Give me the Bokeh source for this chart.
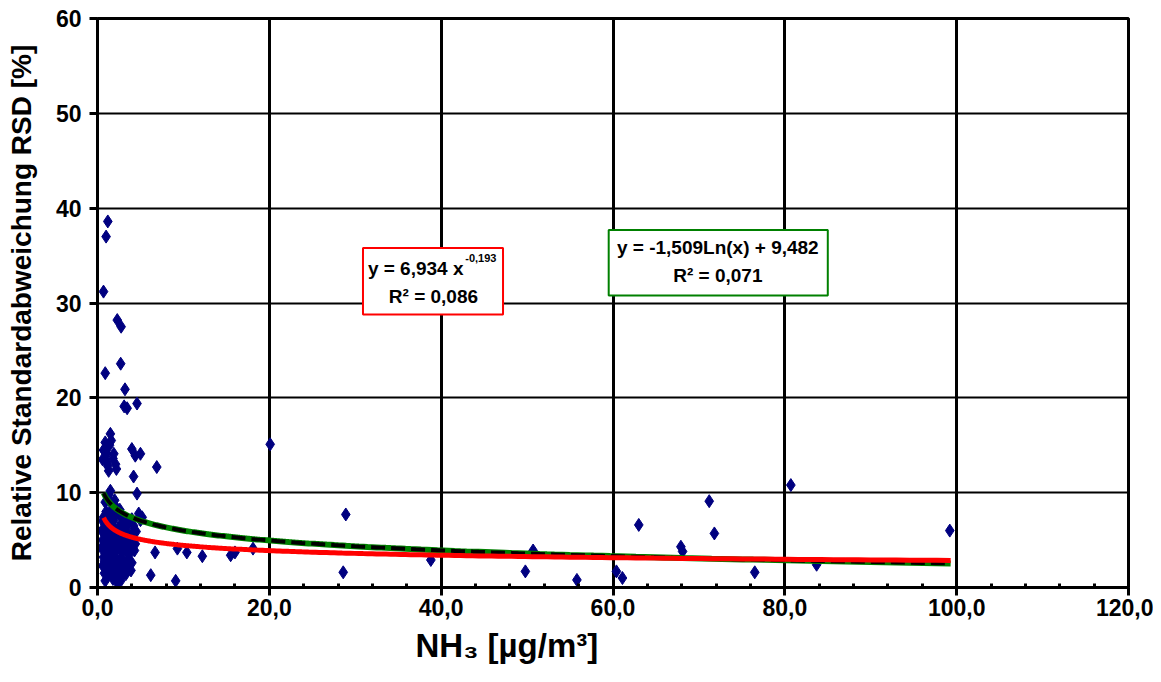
import numpy as np
from bokeh.plotting import figure
from bokeh.models import Range1d, FixedTicker, Label, Title, BoxAnnotation, CustomJSTickFormatter
from bokeh.embed import file_html
from bokeh.resources import INLINE

# ---- data ----
nh3 = [
    1.2, 1.0, 0.7, 2.3, 2.75, 2.7, 0.9, 3.2, 4.6, 3.1, 3.45,
    1.5, 0.9, 1.1, 1.9, 1.1, 2.1, 1.3, 4.0, 5.0, 4.4, 6.9, 4.2, 1.5, 4.6,
    1.4, 1.8, 0.8, 0.7, 1.6, 2.2, 0.6, 1.2,
    0.6, 1.0, 1.4, 1.8, 2.2, 2.6, 3.0, 3.6, 4.2,
    0.5, 0.9, 1.3, 1.7, 2.1, 2.5, 2.9, 3.3, 3.9, 4.5,
    0.6, 1.0, 1.4, 1.8, 2.2, 2.6, 3.0, 3.4, 3.8, 4.4,
    0.5, 0.9, 1.3, 1.7, 2.1, 2.5, 2.9, 3.3, 3.7, 4.3,
    0.7, 1.1, 1.5, 1.9, 2.3, 2.7, 3.1, 3.5, 4.0,
    0.6, 1.0, 1.4, 1.8, 2.2, 2.6, 3.0, 3.4, 3.9,
    0.8, 1.2, 1.6, 2.0, 2.4, 2.8, 3.3,
    0.9, 1.8, 2.7, 2.3,
    1.2, 1.6, 2.0, 0.9, 1.3,
    0.7, 1.1, 1.5, 1.9, 2.3, 2.7, 3.1, 3.5, 4.0,
    0.8, 1.2, 1.6, 2.0, 2.4, 2.8, 3.2, 3.6, 4.1,
    0.7, 1.1, 1.5, 1.9, 2.3, 2.7, 3.1, 3.5, 3.9,
    0.8, 1.2, 1.6, 2.0, 2.4, 2.8, 3.2, 3.6,
    5.0, 4.8, 5.2, 6.7, 6.2, 9.1, 9.3, 10.4, 12.2, 15.5, 16.0, 18.1,
    20.1, 28.9, 28.6, 38.8, 50.7, 49.8, 55.8, 60.4, 61.1, 63.0,
    67.9, 68.1, 71.2, 71.8, 76.5, 80.7, 83.7, 99.2,
]
rsd = [
    38.6, 37.0, 31.2, 28.2, 27.5, 23.6, 22.6, 20.9, 19.4, 19.1, 18.9,
    16.2, 15.3, 14.1, 14.1, 13.2, 13.0, 12.3, 14.6, 14.1, 13.9, 12.7, 11.7, 10.2, 9.9,
    15.0, 13.6, 14.4, 14.5, 15.5, 12.5, 13.5, 12.8,
    7.0, 8.0, 7.5, 8.5, 7.8, 8.2, 7.2, 6.8, 6.5,
    6.0, 6.3, 6.1, 6.6, 6.0, 6.4, 5.8, 6.2, 5.6, 5.9,
    5.0, 5.3, 4.8, 5.4, 5.1, 4.7, 5.2, 4.9, 5.0, 4.6,
    4.1, 4.4, 3.9, 4.2, 3.8, 4.3, 3.7, 4.0, 3.5, 3.9,
    3.2, 3.5, 3.0, 3.3, 2.9, 3.1, 2.7, 3.0, 2.6,
    2.3, 2.5, 2.1, 2.4, 2.0, 2.2, 1.9, 2.3, 1.8,
    1.5, 1.3, 1.6, 1.2, 1.5, 1.1, 1.4,
    0.7, 0.9, 0.7, 0.5,
    9.5, 8.9, 9.2, 9.0, 9.8,
    7.4, 7.7, 8.0, 7.1, 8.3, 7.5, 6.6, 7.0, 7.2,
    5.6, 5.8, 5.5, 5.7, 5.5, 5.3, 5.6, 5.4, 5.2,
    4.5, 4.7, 4.4, 4.6, 4.3, 4.1, 4.4, 4.2, 4.0,
    2.8, 2.9, 2.6, 2.7, 2.5, 2.6, 2.4, 2.2,
    7.1, 7.8, 7.4, 3.7, 1.3, 0.7, 4.1, 3.7, 3.3, 3.4, 3.7, 4.1,
    15.1, 7.7, 1.6, 2.9, 3.9, 1.7, 0.8, 1.7, 1.0, 6.6,
    4.3, 3.8, 9.1, 5.7, 1.6, 10.8, 2.4, 6.0,
]

# trendline coefficients as printed in the chart
pow_a, pow_b = 6.934, -0.193
log_a, log_b = -1.509, 9.482
fit_x_min, fit_x_max = 0.73, 99.3

x_ticks = [0, 20, 40, 60, 80, 100, 120]
x_minor = [v for v in range(4, 120, 4) if v % 20 != 0]
y_ticks = [0, 10, 20, 30, 40, 50, 60]

FONT = "Liberation Sans"

p = figure(width=1153, height=674, output_backend="svg", toolbar_location=None,
           x_range=Range1d(0, 120), y_range=Range1d(0, 60),
           min_border_left=97, min_border_right=25, min_border_top=18, min_border_bottom=87)
p.background_fill_color = "white"
p.border_fill_color = "white"
p.outline_line_color = "black"
p.outline_line_width = 3

# grids
p.xgrid.ticker = FixedTicker(ticks=x_ticks)
p.ygrid.ticker = FixedTicker(ticks=y_ticks)
p.xgrid.grid_line_color = "black"
p.xgrid.grid_line_width = 3
p.ygrid.grid_line_color = "black"
p.ygrid.grid_line_width = 2

# axes
p.xaxis.ticker = FixedTicker(ticks=x_ticks, minor_ticks=x_minor)
p.yaxis.ticker = FixedTicker(ticks=y_ticks)
p.xaxis.formatter = CustomJSTickFormatter(code="return tick.toFixed(1).replace('.', ',');")
for ax in (p.xaxis, p.yaxis):
    ax.axis_line_color = "black"
    ax.axis_line_width = 3
    ax.major_tick_line_color = "black"
    ax.major_tick_line_width = 3
    ax.major_tick_out = 8
    ax.major_tick_in = 0
    ax.major_label_text_font = FONT
    ax.major_label_text_font_style = "bold"
    ax.major_label_text_font_size = "23px"
    ax.major_label_text_color = "black"
p.xaxis.minor_tick_line_color = "black"
p.xaxis.minor_tick_line_width = 3
p.xaxis.minor_tick_in = 4
p.xaxis.minor_tick_out = 0
p.yaxis.minor_tick_line_color = None
p.xaxis.major_label_standoff = 3
p.yaxis.major_label_standoff = 8

p.yaxis.axis_label = "Relative Standardabweichung RSD [%]"
p.yaxis.axis_label_text_font = FONT
p.yaxis.axis_label_text_font_style = "bold"
p.yaxis.axis_label_text_font_size = "28px"
p.yaxis.axis_label_text_color = "black"
p.yaxis.axis_label_standoff = 16

# x-axis title, below the axis, left-shifted as in the reference
p.add_layout(Title(text="NH\u2083 [\u00b5g/m\u00b3]", align="left", offset=318, standoff=12,
                   text_font=FONT, text_font_style="bold", text_font_size="33px",
                   text_color="black"), "below")

# scatter
p.scatter(nh3, rsd, marker="diamond", size=13, fill_color="#000080", line_color="#000080")

# trendlines (drawn over the points)
fx = np.geomspace(fit_x_min, fit_x_max, 300)
p.line(fx, log_a * np.log(fx) + log_b, line_color="#008000", line_width=6)
p.line(fx, log_a * np.log(fx) + log_b, line_color="black", line_width=4, line_dash="14 6")
p.line(fx, pow_a * fx ** pow_b, line_color="#FF0000", line_width=5)

# equation boxes
p.add_layout(BoxAnnotation(left=30.9, right=47.2, bottom=28.8, top=35.8,
                           fill_color="white", fill_alpha=1.0,
                           line_color="#FF0000", line_alpha=1.0, line_width=2))
p.add_layout(BoxAnnotation(left=59.5, right=85.0, bottom=30.8, top=37.7,
                           fill_color="white", fill_alpha=1.0,
                           line_color="#008000", line_alpha=1.0, line_width=2))

def lab(x, y, text, size="19px", align="center"):
    p.add_layout(Label(x=x, y=y, text=text, text_align=align, text_baseline="middle",
                       text_font=FONT, text_font_style="bold", text_font_size=size,
                       text_color="black"))

lab(42.6, 33.6, "y = 6,934 x", align="right")
lab(42.8, 34.7, "-0,193", size="11px", align="left")
lab(39.1, 30.7, "R\u00b2 = 0,086")
lab(72.2, 35.9, "y = -1,509Ln(x) + 9,482")
lab(72.2, 32.9, "R\u00b2 = 0,071")

open("out.html", "w").write(file_html(p, INLINE))
